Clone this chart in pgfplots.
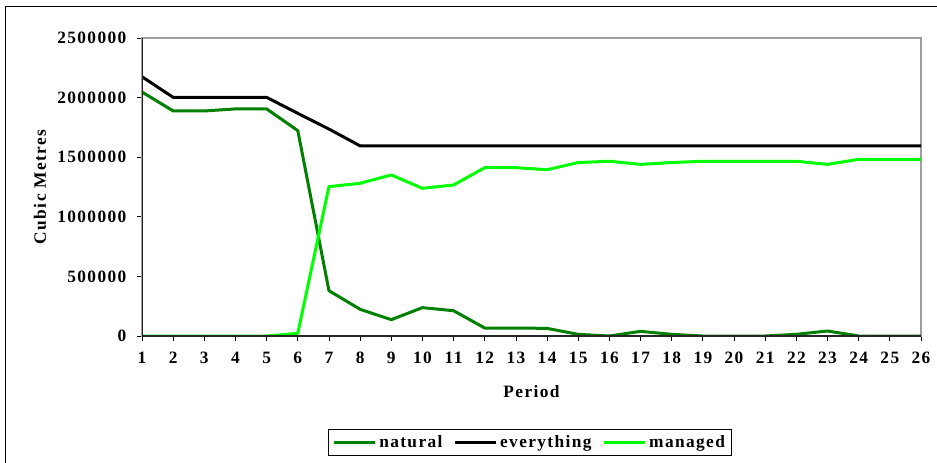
\documentclass[border=0pt]{standalone}
\usepackage{fontspec}
\setmainfont{Liberation Serif}[LetterSpace=8]
\usepackage{pgfplots}
\pgfplotsset{compat=1.18}
\definecolor{natgreen}{HTML}{008000}
\definecolor{mangreen}{HTML}{00FF00}
\begin{document}
\fontsize{13pt}{15pt}\selectfont
\begin{tikzpicture}
\useasboundingbox (0,0) rectangle (702.75pt,-347.25pt);
\draw[black, line width=1.2pt] (4.1pt,-347.25pt) -- (4.1pt,-4.9pt) -- (702.75pt,-4.9pt);
\begin{axis}[
  at={(106.5pt,-252pt)}, anchor=south west,
  scale only axis, width=584.25pt, height=223.5pt,
  xmin=1, xmax=26, ymin=0, ymax=2500000,
  xtick={1,2,...,26},
  ytick={0,500000,1000000,1500000,2000000,2500000},
  scaled y ticks=false,
  yticklabel style={xshift=-3.5pt, /pgf/number format/.cd, fixed, 1000 sep={}},
  /pgf/number format/assume math mode=true,
  ticklabel style={font=\fontsize{13pt}{15pt}\selectfont\bfseries},
  xticklabel style={yshift=-4pt},
  tick align=outside, major tick length=3.75pt,
  xtick pos=bottom, ytick pos=left,
  tick style={black, line width=0.6pt},
  axis line style={gray!75, line width=1.2pt},
  xlabel={Period}, ylabel={Cubic Metres},
  label style={font=\fontsize{13pt}{15pt}\selectfont\bfseries},
  xlabel style={at={(axis description cs:0.5,-0.188)}, anchor=center},
  ylabel style={at={(axis description cs:-0.131,0.5)}, anchor=center},
  legend columns=3,
  legend style={at={(axis description cs:0.498,-0.357)}, anchor=center,
    draw=black, line width=0.6pt, font=\fontsize{13pt}{15pt}\selectfont\bfseries,
    inner xsep=3pt, inner ysep=2.5pt,
    /tikz/every even column/.append style={column sep=6pt}},
  legend image code/.code={\draw[#1] (0pt,0pt) -- (31pt,0pt);},
  every axis plot/.append style={line width=2.25pt, line join=round},
]
\addplot[natgreen] coordinates {
(1,2047000) (2,1888000) (3,1888000) (4,1905000) (5,1905000) (6,1723000)
(7,380000) (8,224000) (9,137000) (10,238000) (11,212000) (12,67000)
(13,67000) (14,64000) (15,14000) (16,0) (17,39000) (18,14000) (19,0)
(20,0) (21,0) (22,14000) (23,42000) (24,0) (25,0) (26,0)};
\addlegendentry{natural}
\addplot[black] coordinates {
(1,2175000) (2,2002000) (3,2002000) (4,2002000) (5,2002000) (6,1868000)
(7,1736000) (8,1595000) (9,1595000) (10,1595000) (11,1595000) (12,1595000)
(13,1595000) (14,1595000) (15,1595000) (16,1595000) (17,1595000) (18,1595000)
(19,1595000) (20,1595000) (21,1595000) (22,1595000) (23,1595000) (24,1595000)
(25,1595000) (26,1595000)};
\addlegendentry{everything}
\addplot[mangreen] coordinates {
(1,0) (2,0) (3,0) (4,0) (5,0) (6,22000)
(7,1253000) (8,1281000) (9,1351000) (10,1239000) (11,1267000) (12,1412000)
(13,1412000) (14,1395000) (15,1455000) (16,1466000) (17,1440000) (18,1455000)
(19,1466000) (20,1466000) (21,1466000) (22,1466000) (23,1440000) (24,1482000)
(25,1482000) (26,1482000)};
\addlegendentry{managed}
\draw[black!85, line width=1.2pt] (rel axis cs:0,1) -- (rel axis cs:0,0) -- (rel axis cs:1,0);
\end{axis}
\end{tikzpicture}
\end{document}
